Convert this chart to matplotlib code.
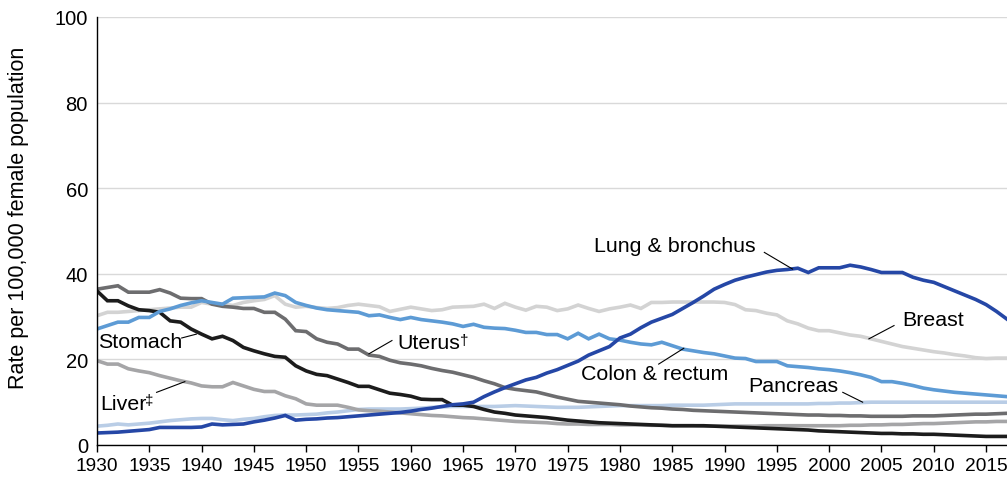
import numpy as np
import matplotlib
matplotlib.use('Agg')
import matplotlib.pyplot as plt

years = np.arange(1930, 2018)

# Death rates per 100,000 females (1930-2017)
lung = [2.8, 2.9, 3.0, 3.2, 3.4, 3.6, 4.1, 4.1, 4.1, 4.1,
        4.2, 4.9, 4.7, 4.8, 4.9, 5.4, 5.8, 6.3, 6.9, 5.8,
        6.0, 6.1, 6.3, 6.4, 6.6, 6.8, 7.0, 7.2, 7.4, 7.6,
        7.9, 8.3, 8.6, 9.0, 9.4, 9.6, 10.0, 11.3, 12.4, 13.4,
        14.3, 15.2, 15.8, 16.8, 17.6, 18.6, 19.6, 21.0, 22.0, 23.0,
        25.0, 25.9, 27.4, 28.7, 29.6, 30.5, 31.9, 33.3, 34.8, 36.4,
        37.5, 38.5, 39.2, 39.8, 40.4, 40.8, 41.0, 41.3, 40.3, 41.4,
        41.4, 41.4, 42.0, 41.6, 41.0, 40.3, 40.3, 40.3, 39.2, 38.5,
        38.0, 37.0, 36.0, 35.0, 34.0, 32.8, 31.2, 29.4]
breast = [30.2, 31.0, 31.0, 31.2, 31.4, 31.6, 31.8, 32.0, 32.2, 32.2,
          33.3, 32.9, 32.9, 32.6, 33.3, 33.7, 34.0, 34.9, 32.9, 32.2,
          32.4, 32.1, 31.9, 32.1, 32.6, 32.9, 32.6, 32.3, 31.2, 31.7,
          32.2, 31.8, 31.4, 31.6, 32.2, 32.3, 32.4, 32.9, 31.9, 33.1,
          32.2, 31.5, 32.4, 32.2, 31.4, 31.8, 32.7, 31.9, 31.2, 31.8,
          32.2, 32.7, 31.9, 33.3, 33.3, 33.4, 33.4, 33.4, 33.4, 33.4,
          33.3, 32.8, 31.6, 31.4, 30.8, 30.4, 29.0, 28.3, 27.3, 26.7,
          26.7, 26.2, 25.7, 25.4, 24.8, 24.2, 23.6, 23.0, 22.6, 22.2,
          21.8, 21.5, 21.1, 20.8, 20.4, 20.2, 20.3, 20.3]
colon = [27.1, 27.9, 28.7, 28.7, 29.8, 29.8, 31.2, 31.8, 32.6, 33.2,
         33.7, 33.3, 32.9, 34.3, 34.4, 34.5, 34.6, 35.5, 34.9, 33.3,
         32.6, 32.0, 31.6, 31.4, 31.2, 31.0, 30.2, 30.4, 29.8, 29.3,
         29.8, 29.3, 29.0, 28.7, 28.3, 27.7, 28.2, 27.5, 27.3, 27.2,
         26.8, 26.3, 26.3, 25.8, 25.8, 24.8, 26.1, 24.8, 25.9, 24.8,
         24.5, 24.0, 23.6, 23.4, 24.0, 23.2, 22.4, 22.0, 21.6, 21.3,
         20.8, 20.3, 20.2, 19.5, 19.5, 19.5, 18.5, 18.3, 18.1, 17.8,
         17.6, 17.3, 16.9, 16.4, 15.8, 14.8, 14.8, 14.4, 13.9, 13.3,
         12.9, 12.6, 12.3, 12.1, 11.9, 11.7, 11.5, 11.3]
pancreas = [4.4, 4.6, 4.9, 4.7, 4.9, 5.1, 5.4, 5.7, 5.9, 6.1,
            6.2, 6.2, 5.9, 5.7, 6.0, 6.2, 6.6, 6.9, 7.0, 7.0,
            7.1, 7.2, 7.5, 7.7, 8.0, 8.3, 8.4, 8.4, 8.4, 8.4,
            8.5, 8.6, 8.8, 8.9, 9.0, 9.0, 9.0, 9.0, 9.0, 9.1,
            9.2, 9.1, 9.0, 8.9, 8.8, 8.8, 8.8, 8.9, 9.0, 9.1,
            9.2, 9.2, 9.2, 9.2, 9.2, 9.3, 9.3, 9.3, 9.3, 9.4,
            9.5, 9.6, 9.6, 9.6, 9.6, 9.6, 9.6, 9.6, 9.6, 9.7,
            9.7, 9.8, 9.8, 9.9, 10.0, 10.0, 10.0, 10.0, 10.0, 10.0,
            10.0, 10.0, 10.0, 10.0, 10.0, 10.0, 10.0, 10.0]
uterus = [36.4, 36.8, 37.2, 35.7, 35.7, 35.7, 36.3, 35.5, 34.3, 34.2,
          34.2, 32.9, 32.4, 32.2, 31.9, 31.9, 31.0, 31.0, 29.4, 26.7,
          26.5, 24.8, 24.0, 23.6, 22.4, 22.4, 21.0, 20.7, 19.8, 19.2,
          18.9, 18.5, 17.9, 17.4, 17.0, 16.4, 15.8, 15.0, 14.3, 13.4,
          13.0, 12.7, 12.4, 11.8, 11.2, 10.7, 10.2, 10.0, 9.8, 9.6,
          9.4, 9.1, 8.9, 8.7, 8.6, 8.4, 8.3, 8.1, 8.0, 7.9,
          7.8, 7.7, 7.6, 7.5, 7.4, 7.3, 7.2, 7.1, 7.0, 7.0,
          6.9, 6.9, 6.8, 6.8, 6.7, 6.7, 6.7, 6.7, 6.8, 6.8,
          6.8, 6.9, 7.0, 7.1, 7.2, 7.2, 7.3, 7.4]
stomach = [36.0, 33.7, 33.7, 32.5, 31.6, 31.4, 31.0, 29.0, 28.7, 27.1,
           25.9, 24.8, 25.4, 24.4, 22.8, 22.0, 21.3, 20.7, 20.5, 18.5,
           17.3, 16.5, 16.2, 15.4, 14.6, 13.7, 13.7, 12.9, 12.1, 11.8,
           11.4, 10.7, 10.6, 10.6, 9.3, 9.3, 9.0, 8.3, 7.7, 7.4,
           7.0, 6.8, 6.6, 6.4, 6.1, 5.8, 5.6, 5.4, 5.2, 5.1,
           5.0, 4.9, 4.8, 4.7, 4.6, 4.5, 4.5, 4.5, 4.5, 4.4,
           4.3, 4.2, 4.1, 4.0, 3.9, 3.8, 3.7, 3.6, 3.5, 3.3,
           3.2, 3.1, 3.0, 2.9, 2.8, 2.7, 2.7, 2.6, 2.6, 2.5,
           2.5, 2.4, 2.3, 2.2, 2.1, 2.0, 2.0, 2.0]
liver = [19.7, 18.9, 18.9, 17.8, 17.3, 16.9, 16.2, 15.6, 15.0, 14.5,
         13.8, 13.6, 13.6, 14.6, 13.8, 13.0, 12.5, 12.5, 11.5, 10.8,
         9.6, 9.3, 9.3, 9.3, 8.8, 8.2, 8.0, 7.9, 7.7, 7.5,
         7.3, 7.1, 6.9, 6.8, 6.6, 6.4, 6.3, 6.1, 5.9, 5.7,
         5.5, 5.4, 5.3, 5.2, 5.0, 4.9, 4.9, 4.8, 4.8, 4.8,
         4.7, 4.7, 4.7, 4.6, 4.6, 4.5, 4.5, 4.5, 4.4, 4.4,
         4.4, 4.4, 4.4, 4.4, 4.5, 4.5, 4.5, 4.5, 4.5, 4.5,
         4.5, 4.5, 4.6, 4.6, 4.7, 4.7, 4.8, 4.8, 4.9, 5.0,
         5.0, 5.1, 5.2, 5.3, 5.4, 5.4, 5.5, 5.5]

xticks = list(range(1930, 2016, 5))
yticks = [0, 20, 40, 60, 80, 100]

plt.rcParams['font.family'] = ['Liberation Sans', 'DejaVu Sans']

fig = plt.figure(figsize=(10.07, 4.81), dpi=100)
ax = fig.add_axes([0.0963, 0.0728, 0.9037, 0.8898])

lw = 2.6
series = [
    (breast, '#d3d3d3'),
    (pancreas, '#b9cde6'),
    (liver, '#a5a5a7'),
    (uterus, '#6d6d6f'),
    (stomach, '#1c1c1c'),
    (colon, '#5d9bd5'),
    (lung, '#2547a6'),
]
for vals, col in series:
    ax.plot(years, vals, color=col, lw=lw, solid_joinstyle='miter', zorder=3)

ax.set_xlim(1930, 2017)
ax.set_ylim(0, 100)
ax.set_xticks(xticks)
ax.set_yticks(yticks)
ax.set_xticklabels([str(t) for t in xticks], fontsize=13.8)
ax.set_yticklabels([str(t) for t in yticks], fontsize=14.5)
ax.tick_params(axis='x', length=5, width=1, color='black', pad=4)
ax.tick_params(axis='y', length=0, pad=6.5)
ax.grid(axis='y', color='#d9d9d9', lw=1, zorder=0)
for s in ['top', 'right']:
    ax.spines[s].set_visible(False)
for s in ['left', 'bottom']:
    ax.spines[s].set_linewidth(1)
    ax.spines[s].set_zorder(5)
ax.set_ylabel('Rate per 100,000 female population', fontsize=15.5)
ax.yaxis.set_label_coords(-0.075, 0.533)


def label(txt, tx, ty, x0, y0, x1, y1, mark=None, mx=0, my=0):
    ax.text(tx, ty, txt, fontsize=15.4, ha='left', va='center', zorder=6)
    ax.plot([x0, x1], [y0, y1], color='black', lw=0.8, zorder=6)
    if mark:
        ax.text(mx, my, mark, fontsize=11, ha='left', va='center', zorder=6)


label('Stomach', 1930.1, 24.1, 1938.1, 25.0, 1939.5, 25.9)
label('Liver', 1930.3, 9.8, 1935.7, 12.3, 1938.4, 14.8, '‡', 1934.6, 10.6)
label('Uterus', 1958.7, 24.0, 1958.2, 24.4, 1956.0, 21.3, '†', 1964.7, 24.5)
label('Colon & rectum', 1976.3, 16.6, 1983.7, 18.9, 1986.1, 22.6)
label('Lung & bronchus', 1977.5, 46.5, 1993.8, 45.0, 1996.5, 41.1)
label('Breast', 2007.0, 29.4, 2006.2, 27.9, 2003.8, 24.8)
label('Pancreas', 1992.3, 13.9, 2001.3, 12.3, 2003.2, 10.0)

fig.savefig('out.png', dpi=100)
